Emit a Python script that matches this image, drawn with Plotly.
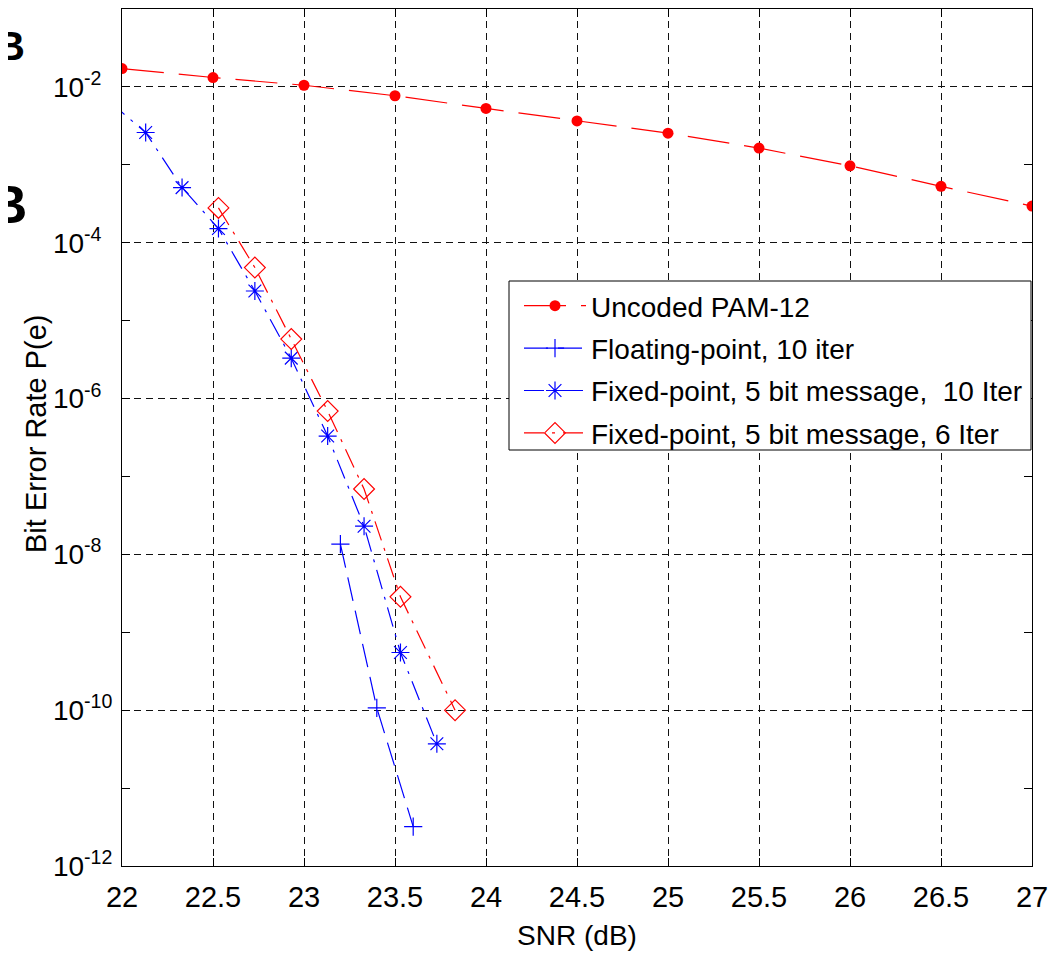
import plotly.graph_objects as go

# ---------------- data ----------------
snr_uncoded = [22, 22.5, 23, 23.5, 24, 24.5, 25, 25.5, 26, 26.5, 27]
ber_uncoded = [1.72e-2, 1.32e-2, 1.05e-2, 7.7e-3, 5.3e-3, 3.66e-3, 2.55e-3,
               1.64e-3, 9.7e-4, 5.3e-4, 2.95e-4]

snr_float10 = [23.2, 23.4, 23.6]
ber_float10 = [1.35e-8, 1.07e-10, 3.2e-12]

snr_fixed10 = [21.93, 22.13, 22.33, 22.53, 22.73, 22.93, 23.13, 23.33, 23.53, 23.73]
ber_fixed10 = [6.5e-3, 2.6e-3, 5.1e-4, 1.52e-4, 2.4e-5, 3.3e-6, 3.3e-7,
               2.3e-8, 5.5e-10, 3.7e-11]

snr_fixed6 = [22.53, 22.73, 22.93, 23.13, 23.33, 23.53, 23.83]
ber_fixed6 = [2.8e-4, 4.8e-5, 5.8e-6, 6.9e-7, 6.9e-8, 2.85e-9, 1.0e-10]

names = ["Uncoded PAM-12",
         "Floating-point, 10 iter",
         "Fixed-point, 5 bit message,\u00a0 10 Iter",
         "Fixed-point, 5 bit message, 6 Iter"]

y_major = [1e-12, 1e-10, 1e-8, 1e-6, 1e-4, 1e-2]
y_exponents = ["-12", "-10", "-8", "-6", "-4", "-2"]
y_minor = [1e-11, 1e-9, 1e-7, 1e-5, 1e-3]

FONT = "Liberation Sans, Arial, Helvetica, sans-serif"

# bases "10" line up; one-digit exponents are padded with a figure space
y_major_text = ["10<sup>%s%s</sup>" % (e, "" if len(e) == 3 else "\u2007")
                for e in y_exponents]

fig = go.Figure()
fig.add_trace(go.Scatter(
    x=snr_uncoded, y=ber_uncoded, name=names[0], legendgroup="a",
    mode="lines+markers",
    line=dict(color="#ff0000", width=1.2, dash="42px,15px"),
    marker=dict(symbol="circle", size=11, color="#ff0000")))
fig.add_trace(go.Scatter(
    x=snr_float10, y=ber_float10, name=names[1], legendgroup="b",
    mode="lines+markers",
    line=dict(color="#0000ff", width=1.2, dash="24px,10px"),
    marker=dict(symbol="cross-thin-open", size=13, color="#0000ff",
                line=dict(color="#0000ff", width=1.2))))
fig.add_trace(go.Scatter(
    x=snr_fixed10, y=ber_fixed10, name=names[2], legendgroup="c",
    mode="lines+markers",
    line=dict(color="#0000ff", width=1.2, dash="20px,8px,3px,8px"),
    marker=dict(symbol="asterisk-open", size=15, color="#0000ff",
                line=dict(color="#0000ff", width=1.2))))
fig.add_trace(go.Scatter(
    x=snr_fixed6, y=ber_fixed6, name=names[3], legendgroup="d",
    mode="lines+markers",
    line=dict(color="#ff0000", width=1.2, dash="20px,8px,3px,8px"),
    marker=dict(symbol="diamond-open", size=16, color="#ff0000",
                line=dict(color="#ff0000", width=1.2))))

# the page body has an 8 px margin: the figure is sized to fill the rest
fig.update_layout(
    width=1053, height=947,
    margin=dict(l=114, r=29, t=1, b=89),
    paper_bgcolor="white", plot_bgcolor="white",
    font=dict(family=FONT, size=28, color="black"),
    showlegend=True,
    legend=dict(x=(519 - 122) / 910, y=(866 - 281) / 857,
                xanchor="left", yanchor="top",
                borderwidth=0, bgcolor="rgba(0,0,0,0)",
                font=dict(family=FONT, size=28, color="black"),
                itemwidth=62, tracegroupgap=3, traceorder="grouped"),
)

# legend frame
fig.add_shape(type="rect", xref="paper", yref="paper", layer="above",
              x0=(509 - 122) / 910, x1=(1031 - 122) / 910,
              y0=(866 - 450) / 857, y1=(866 - 281) / 857,
              line=dict(color="black", width=1), fillcolor="white")

fig.update_xaxes(
    range=[22, 27], tick0=22, dtick=0.5,
    ticks="inside", ticklen=8, tickcolor="black", tickwidth=1,
    showline=True, linecolor="black", linewidth=1, mirror="ticks",
    showgrid=True, gridcolor="#111111", gridwidth=1, griddash="7px,5px",
    zeroline=False, ticklabelstandoff=5,
    tickfont=dict(family=FONT, size=29, color="black"),
    title=dict(text="SNR (dB)", standoff=13,
               font=dict(family=FONT, size=28, color="black")))

fig.update_yaxes(
    type="log", range=[-12, -1],
    tickmode="array", tickvals=y_major, ticktext=y_major_text,
    ticks="inside", ticklen=8, tickcolor="black", tickwidth=1,
    minor=dict(tickmode="array", tickvals=y_minor, ticks="inside",
               ticklen=8, tickcolor="black", showgrid=False),
    showline=True, linecolor="black", linewidth=1, mirror="ticks",
    showgrid=True, gridcolor="#111111", gridwidth=1, griddash="7px,5px",
    zeroline=False, ticklabelstandoff=3,
    tickfont=dict(family=FONT, size=28, color="black"))

# y-axis title
fig.add_annotation(text="Bit Error Rate P(e)", xref="paper", yref="paper",
                   x=(36 - 122) / 910, y=(866 - 434) / 857, textangle=-90,
                   xanchor="center", yanchor="middle", showarrow=False,
                   font=dict(family=FONT, size=29, color="black"))

# partial glyphs cut by the left edge of the picture
fig.add_annotation(text="<b>B</b>", xref="paper", yref="paper",
                   x=(27 - 122) / 910, y=(866 - 46) / 857,
                   xanchor="right", yanchor="middle", showarrow=False,
                   font=dict(family=FONT, size=40, color="black"))
fig.add_annotation(text="<b>B</b>", xref="paper", yref="paper",
                   x=(29 - 122) / 910, y=(866 - 204) / 857,
                   xanchor="right", yanchor="middle", showarrow=False,
                   font=dict(family=FONT, size=53, color="black"))

fig.write_html("out.html")
